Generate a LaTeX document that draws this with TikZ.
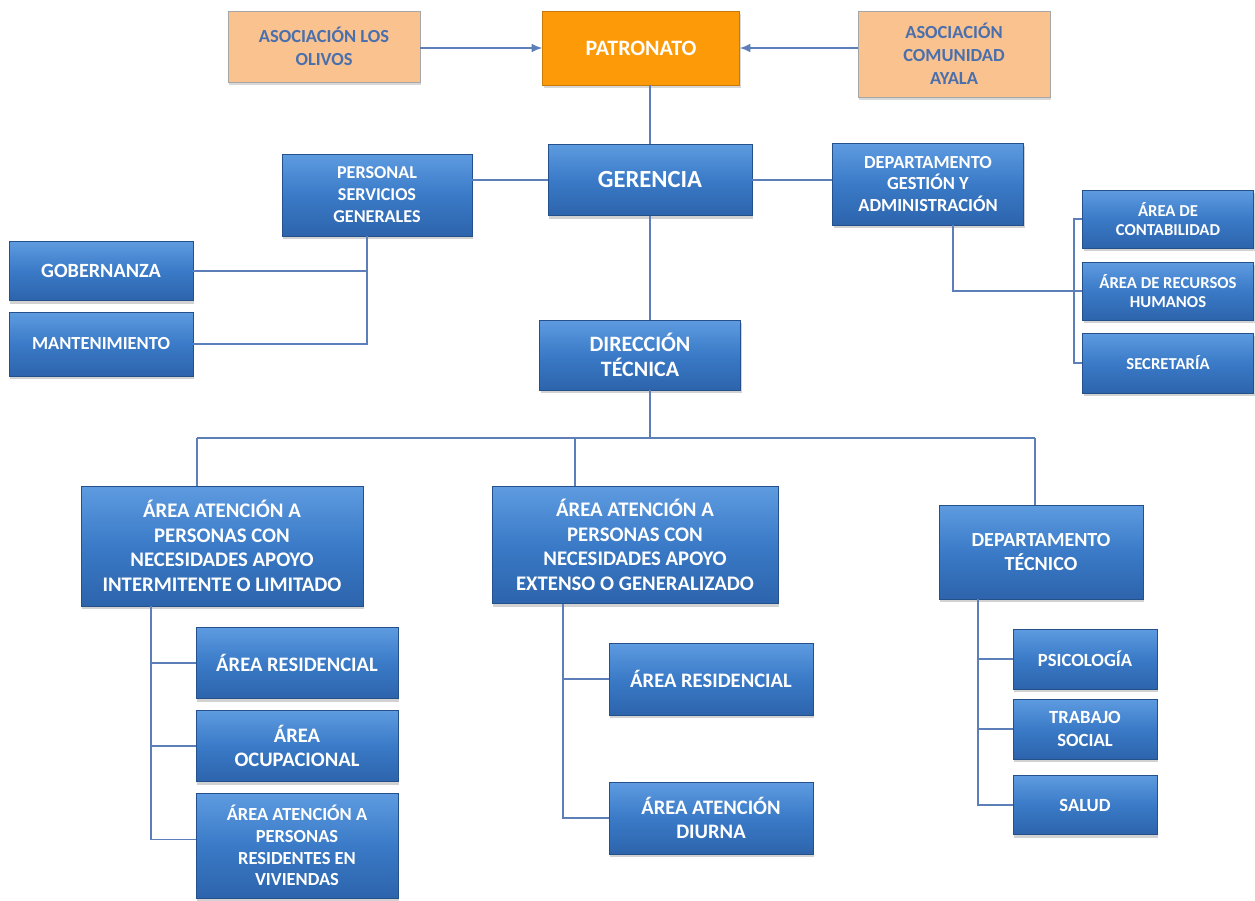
\documentclass[tikz,border=0pt]{standalone}
\usepackage{fontspec}
\setmainfont{Carlito}
\usetikzlibrary{arrows.meta,shadows}

\definecolor{boxtop}{HTML}{5E9BE0}
\definecolor{boxmid}{HTML}{3A7AC7}
\definecolor{boxbot}{HTML}{2D64AC}
\definecolor{boxedge}{HTML}{24508C}
\definecolor{linkcol}{HTML}{5C7EB9}
\definecolor{tanfill}{HTML}{F9C28E}
\definecolor{tantext}{HTML}{4A6FAD}
\definecolor{orangefill}{HTML}{FD9A08}

\newcommand{\fs}[2]{\fontsize{#1}{#2}\selectfont}

\tikzset{
	sz/.style 2 args={minimum width=#1*0.02cm, minimum height=#2*0.02cm},
	txt/.style 2 args={font=\bfseries\fs{#1}{#2}},
	bluebox/.style={draw=boxedge, line width=0.5pt, top color=boxtop, bottom color=boxbot, middle color=boxmid, text=white, align=center, inner sep=2pt, drop shadow={shadow xshift=0.8pt, shadow yshift=-1.8pt, opacity=0.35}},
	tanbox/.style={draw=black!35, line width=0.4pt, fill=tanfill, text=tantext, align=center, inner sep=2pt, drop shadow={shadow xshift=0.8pt, shadow yshift=-1.8pt, opacity=0.3}},
	orangebox/.style={draw=orangefill!80!black, line width=0.4pt, fill=orangefill, text=white, align=center, inner sep=2pt, drop shadow={shadow xshift=0.8pt, shadow yshift=-1.8pt, opacity=0.3}},
	link/.style={draw=linkcol, line width=0.8pt},
}

\begin{document}
\begin{tikzpicture}[x=0.02cm, y=-0.02cm]
	\useasboundingbox (0,0) rectangle (1255,900);
	\fill[white] (0,0) rectangle (1255,900);

	% top row
	\node[tanbox, sz={192}{71}, txt={10.5}{13}] (olivos) at (324,46.5) {ASOCIACIÓN LOS\\OLIVOS};
	\node[orangebox, sz={197}{74}, txt={12.5}{15}] (patronato) at (641,48) {PATRONATO};
	\node[tanbox, sz={192}{86}, txt={10.5}{13}] (ayala) at (954,54) {ASOCIACIÓN\\COMUNIDAD\\AYALA};

	% second level
	\node[bluebox, sz={204}{71}, txt={14}{16}] (gerencia) at (650,180) {GERENCIA};
	\node[bluebox, sz={190}{82}, txt={10.3}{12.5}] (personal) at (377,195) {PERSONAL\\SERVICIOS\\GENERALES};
	\node[bluebox, sz={191}{82}, txt={10.5}{12.5}] (gestion) at (928,184) {DEPARTAMENTO\\GESTIÓN Y\\ADMINISTRACIÓN};

	\node[bluebox, sz={184}{59}, txt={11.5}{14}] (gobernanza) at (101,271) {GOBERNANZA};
	\node[bluebox, sz={184}{64}, txt={10.5}{13}] (mantenimiento) at (101,344) {MANTENIMIENTO};

	\node[bluebox, sz={171}{58}, txt={9.5}{11}] (contabilidad) at (1168,219) {ÁREA DE\\CONTABILIDAD};
	\node[bluebox, sz={171}{58}, txt={9.5}{11}] (rrhh) at (1168,291) {ÁREA DE RECURSOS\\HUMANOS};
	\node[bluebox, sz={171}{60}, txt={9.5}{11}] (secretaria) at (1168,363) {SECRETARÍA};

	\node[bluebox, sz={201}{70}, txt={12.5}{14}] (direccion) at (640,355) {DIRECCIÓN\\TÉCNICA};

	% third level
	\node[bluebox, sz={282}{120}, txt={11.8}{14}] (apoyoint) at (222,546) {ÁREA ATENCIÓN A\\PERSONAS CON\\NECESIDADES APOYO\\INTERMITENTE O LIMITADO};
	\node[bluebox, sz={286}{117}, txt={11.8}{14}] (apoyoext) at (635,545) {ÁREA ATENCIÓN A\\PERSONAS CON\\NECESIDADES APOYO\\EXTENSO O GENERALIZADO};
	\node[bluebox, sz={204}{94}, txt={11.4}{14}] (deptec) at (1041,552) {DEPARTAMENTO\\TÉCNICO};

	\node[bluebox, sz={202}{71}, txt={11.7}{14}] (resid1) at (297,663) {ÁREA RESIDENCIAL};
	\node[bluebox, sz={202}{71}, txt={11.7}{14}] (ocupacional) at (297,746) {ÁREA\\OCUPACIONAL};
	\node[bluebox, sz={202}{105}, txt={10.5}{12.3}] (viviendas) at (297,845.5) {ÁREA ATENCIÓN A\\PERSONAS\\RESIDENTES EN\\VIVIENDAS};

	\node[bluebox, sz={204}{72}, txt={11.7}{14}] (resid2) at (711,679) {ÁREA RESIDENCIAL};
	\node[bluebox, sz={204}{72}, txt={11.7}{14}] (diurna) at (711,818) {ÁREA ATENCIÓN\\DIURNA};

	\node[bluebox, sz={144}{60}, txt={10.6}{13}] (psicologia) at (1085,659) {PSICOLOGÍA};
	\node[bluebox, sz={144}{60}, txt={10.6}{13}] (trabajo) at (1085,729) {TRABAJO\\SOCIAL};
	\node[bluebox, sz={144}{59}, txt={10.6}{13}] (salud) at (1085,805) {SALUD};

	% bus lines
	\coordinate (bus1) at (367,0);
	\coordinate (bus2) at (953,0);
	\coordinate (bus3) at (1074,0);
	\coordinate (bar1) at (197,438);
	\coordinate (bar2) at (575,438);
	\coordinate (bar3) at (1035,438);
	\coordinate (bus4) at (151,0);
	\coordinate (bus5) at (563,0);
	\coordinate (bus6) at (978,0);

	% connectors
	\draw[link, -{Latex[length=6pt,width=5pt]}] (olivos.east |- patronato.west) -- (patronato.west);
	\draw[link, -{Latex[length=6pt,width=5pt]}] (ayala.west |- patronato.east) -- (patronato.east);
	\draw[link] (gerencia.north |- patronato.south) -- (gerencia.north);
	\draw[link] (personal.east |- gerencia) -- (gerencia.west);
	\draw[link] (gerencia.east) -- (gestion.west |- gerencia);

	\draw[link] (personal.south -| bus1) |- (mantenimiento.east);
	\draw[link] (gobernanza.east) -- (gobernanza.east -| bus1);

	\draw[link] (gestion.south -| bus2) |- (rrhh.west);
	\draw[link] (contabilidad.west) -- (contabilidad.west -| bus3) |- (secretaria.west);

	\draw[link] (gerencia.south) -- (gerencia.south |- direccion.north);
	\draw[link] (direccion.south -| gerencia) -- (bar1 -| gerencia);
	\draw[link] (bar1) -- (bar3);
	\draw[link] (bar1) -- (bar1 |- apoyoint.north);
	\draw[link] (bar2) -- (bar2 |- apoyoext.north);
	\draw[link] (bar3) -- (bar3 |- deptec.north);

	\draw[link] (apoyoint.south -| bus4) |- ([yshift=3.4pt]viviendas.west);
	\draw[link] (resid1.west) -- (resid1.west -| bus4);
	\draw[link] (ocupacional.west) -- (ocupacional.west -| bus4);

	\draw[link] (apoyoext.south -| bus5) |- (diurna.west);
	\draw[link] (resid2.west) -- (resid2.west -| bus5);

	\draw[link] (deptec.south -| bus6) |- (salud.west);
	\draw[link] (psicologia.west) -- (psicologia.west -| bus6);
	\draw[link] (trabajo.west) -- (trabajo.west -| bus6);
\end{tikzpicture}
\end{document}
